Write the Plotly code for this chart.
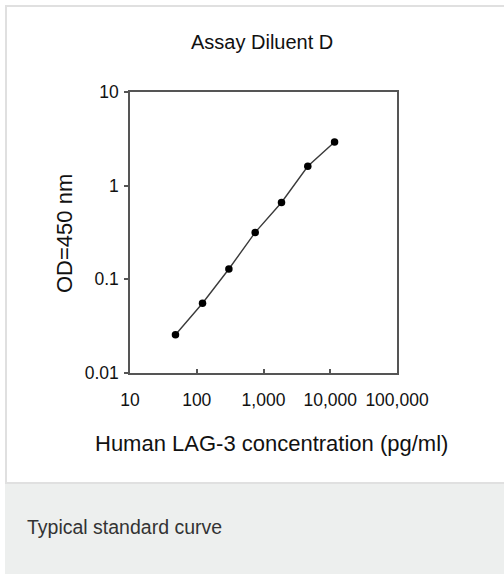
import plotly.graph_objects as go

# Data
concentration = [48, 122, 303, 751, 1860, 4610, 11600]
od450 = [0.0256, 0.0556, 0.129, 0.317, 0.662, 1.61, 2.93]
x_tickvals = [10, 100, 1000, 10000, 100000]
x_ticktext = ["10", "100", "1,000", "10,000", "100,000"]
y_tickvals = [0.01, 0.1, 1, 10]
y_ticktext = ["0.01", "0.1", "1", "10"]

W, H = 504, 574
L, R, T, B = 130, 107, 92, 201
PW, PH = W - L - R, H - T - B


def px(x):
    return (x - L) / PW


def py(y):
    return (H - B - y) / PH


FONT = "Liberation Sans, Arial, Helvetica, sans-serif"

fig = go.Figure()
fig.add_trace(go.Scatter(
    x=concentration, y=od450, mode="lines+markers",
    line=dict(color="#3a3a3a", width=1.4),
    marker=dict(color="#000000", size=7.5),
    showlegend=False, hoverinfo="skip",
))

shapes = [
    # caption background
    dict(type="rect", xref="paper", yref="paper", x0=px(5), x1=px(504), y0=py(483), y1=py(574),
         fillcolor="#edefee", line=dict(width=0), layer="below"),
    # outer frame (left and top)
    dict(type="rect", xref="paper", yref="paper", x0=px(5), x1=px(7), y0=py(5), y1=py(484),
         fillcolor="#e0e0e0", line=dict(width=0), layer="below"),
    dict(type="rect", xref="paper", yref="paper", x0=px(5), x1=px(504), y0=py(5), y1=py(7),
         fillcolor="#e0e0e0", line=dict(width=0), layer="below"),
    dict(type="rect", xref="paper", yref="paper", x0=px(5), x1=px(504), y0=py(482), y1=py(484),
         fillcolor="#e0e0e0", line=dict(width=0), layer="below"),
]

annotations = [
    dict(text="Assay Diluent D", xref="paper", yref="paper", x=px(262), y=py(42),
         xanchor="center", yanchor="middle", showarrow=False,
         font=dict(family=FONT, size=20, color="#111111")),
    dict(text="Human LAG-3 concentration (pg/ml)", xref="paper", yref="paper",
         x=px(271.5), y=py(443), xanchor="center", yanchor="middle", showarrow=False,
         font=dict(family=FONT, size=22, color="#111111")),
    dict(text="OD=450 nm", xref="paper", yref="paper", x=px(65), y=py(234),
         xanchor="center", yanchor="middle", textangle=-90, showarrow=False,
         font=dict(family=FONT, size=22, color="#111111")),
    dict(text="Typical standard curve", xref="paper", yref="paper", x=px(25), y=py(527),
         xanchor="left", yanchor="middle", showarrow=False,
         font=dict(family=FONT, size=19.5, color="#333333")),
]

fig.update_layout(
    width=W, height=H,
    margin=dict(l=L, r=R, t=T, b=B, pad=0),
    paper_bgcolor="white", plot_bgcolor="white",
    shapes=shapes, annotations=annotations,
    font=dict(family=FONT, color="#111111"),
)
fig.update_xaxes(
    type="log", range=[1, 5], tickvals=x_tickvals, ticktext=x_ticktext,
    showline=True, mirror=True, linecolor="#555555", linewidth=1.5,
    ticks="inside", ticklen=4, tickcolor="#555555", tickwidth=1.5,
    ticklabelstandoff=10,
    showgrid=False, zeroline=False, tickfont=dict(size=17.5, color="#111111"),
)
fig.update_yaxes(
    type="log", range=[-2, 1], tickvals=y_tickvals, ticktext=y_ticktext,
    showline=True, mirror=True, linecolor="#555555", linewidth=1.5,
    ticks="outside", ticklen=4, tickcolor="#555555", tickwidth=1.5,
    ticklabelstandoff=2,
    showgrid=False, zeroline=False, tickfont=dict(size=17.5, color="#111111"),
)

fig.write_html("out.html", config={"displayModeBar": False},
               post_script="document.body.style.margin='0';")
